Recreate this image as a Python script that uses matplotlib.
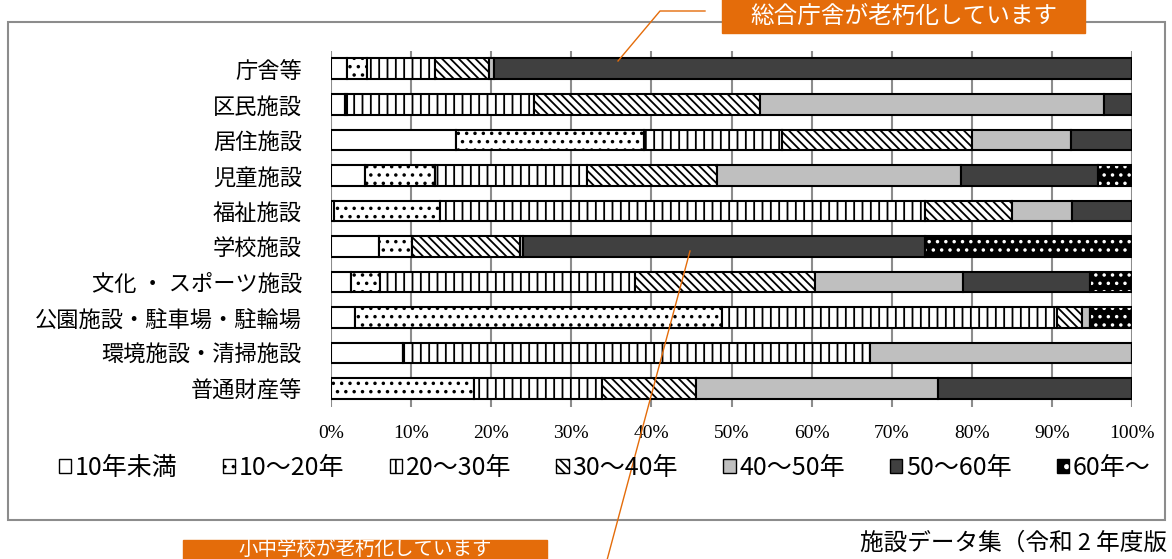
import matplotlib
matplotlib.use("Agg")
import matplotlib.pyplot as plt
from matplotlib.patches import Patch, Rectangle
from matplotlib.lines import Line2D

plt.rcParams['font.family'] = ['Noto Sans CJK JP', 'DejaVu Sans']
plt.rcParams['hatch.linewidth'] = 1.3

# 施設分類
categories = ['庁舎等', '区民施設', '居住施設', '児童施設', '福祉施設', '学校施設',
              '文化 ・ スポーツ施設', '公園施設・駐車場・駐輪場', '環境施設・清掃施設', '普通財産等']

# 築年数別の割合 (%)
age_labels = ['10年未満', '10～20年', '20～30年', '30～40年', '40～50年', '50～60年', '60年～']
under10 = [2.0, 1.7, 15.6, 4.3, 0.4, 6.0, 2.5, 3.0, 9.0, 0.0]
y10_20 = [2.5, 0.3, 23.5, 8.7, 13.2, 4.1, 3.6, 45.8, 0.0, 17.8]
y20_30 = [8.5, 23.3, 17.2, 18.9, 60.6, 0.0, 31.9, 41.8, 58.3, 16.0]
y30_40 = [6.7, 28.2, 23.7, 16.3, 10.8, 13.5, 22.4, 3.1, 0.0, 11.8]
y40_50 = [0.6, 43.0, 12.4, 30.5, 7.5, 0.4, 18.5, 1.0, 32.7, 30.2]
y50_60 = [79.7, 3.5, 7.6, 17.1, 7.5, 50.2, 15.9, 0.0, 0.0, 24.2]
over60 = [0.0, 0.0, 0.0, 4.2, 0.0, 25.8, 5.2, 5.3, 0.0, 0.0]
series = [under10, y10_20, y20_30, y30_40, y40_50, y50_60, over60]

tick_labels = ['0%', '10%', '20%', '30%', '40%', '50%', '60%', '70%', '80%', '90%', '100%']

# 見た目 (face, hatch)
styles = [('white', None), ('white', '..'), ('white', '||'), ('white', '\\\\\\\\'),
          ('#bfbfbf', None), ('#404040', None), ('black', '..')]

orange = '#e46c0a'

fig = plt.figure(figsize=(11.72, 5.59), dpi=100)
ax = fig.add_axes([0.2824, 0.2728, 0.6835, 0.636])

ypos = list(range(len(categories)))
left = [0.0] * len(categories)
h = 0.58
for vals, (fc, hatch) in zip(series, styles):
    if fc == 'black':
        ax.barh(ypos, vals, left=left, height=h, color='black', edgecolor='white',
                hatch=hatch, linewidth=0, zorder=2)
        ax.barh(ypos, vals, left=left, height=h, facecolor='none', edgecolor='black',
                linewidth=1.5, zorder=3)
    else:
        ax.barh(ypos, vals, left=left, height=h, color=fc, edgecolor='black',
                hatch=hatch, linewidth=1.5, zorder=2)
    left = [a + b for a, b in zip(left, vals)]

ax.set_xlim(0, 100)
ax.set_ylim(len(categories) - 0.5, -0.5)
ax.set_yticks(ypos)
ax.set_yticklabels(categories, fontsize=16)
ax.set_xticks(range(0, 101, 10))
ax.set_xticklabels(tick_labels, fontsize=14, family='Liberation Serif')
ax.tick_params(axis='both', length=0)
ax.tick_params(axis='y', pad=21)
ax.tick_params(axis='x', pad=13)
ax.xaxis.grid(True, color='#8c8c8c', linewidth=1.5, zorder=0)
ax.set_axisbelow(True)
for s in ax.spines.values():
    s.set_visible(False)

# 凡例
handles = []
for fc, hatch in styles:
    if fc == 'black':
        handles.append((Patch(facecolor='black', edgecolor='white', hatch='.', linewidth=0),
                        Patch(facecolor='none', edgecolor='black', linewidth=1)))
    else:
        handles.append(Patch(facecolor=fc, edgecolor='black', hatch=hatch, linewidth=1))
fig.legend(handles, age_labels, loc='center', bbox_to_anchor=(0.516, 1 - 468 / 559),
           ncol=7, frameon=False, fontsize=18, handlelength=0.5, handleheight=0.5,
           handletextpad=0.15, columnspacing=1.8)

# 外枠
fig.add_artist(Rectangle((8 / 1172, 1 - 520 / 559), 1157 / 1172, 498 / 559,
                         transform=fig.transFigure, fill=False, edgecolor='#8c8c8c',
                         linewidth=1.5, zorder=1))

# 吹き出し
fig.add_artist(Line2D([705 / 1172, 660 / 1172, 618 / 1172],
                      [1 - 11 / 559, 1 - 11 / 559, 1 - 61 / 559],
                      transform=fig.transFigure, color=orange, linewidth=1, zorder=5))
fig.add_artist(Line2D([690 / 1172, 603 / 1172], [1 - 251 / 559, 1 - 575 / 559],
                      transform=fig.transFigure, color=orange, linewidth=1, zorder=5))
fig.add_artist(Rectangle((722 / 1172, 1 - 33 / 559), 363 / 1172, 40 / 559,
                         transform=fig.transFigure, color=orange, zorder=6))
fig.text(903.5 / 1172, 1 - 16.5 / 559, '総合庁舎が老朽化しています', color='white',
         fontsize=17, ha='center', va='center', zorder=7)
fig.add_artist(Rectangle((183 / 1172, 1 - 573 / 559), 364 / 1172, 33 / 559,
                         transform=fig.transFigure, color=orange, zorder=6))
fig.text(365 / 1172, 1 - 549.5 / 559, '小中学校が老朽化しています', color='white',
         fontsize=14, ha='center', va='center', zorder=7)

fig.text(860 / 1172, 1 - 543 / 559, '施設データ集（令和 2 年度版', fontsize=17,
         ha='left', va='center')

fig.savefig('out.png', dpi=100)
